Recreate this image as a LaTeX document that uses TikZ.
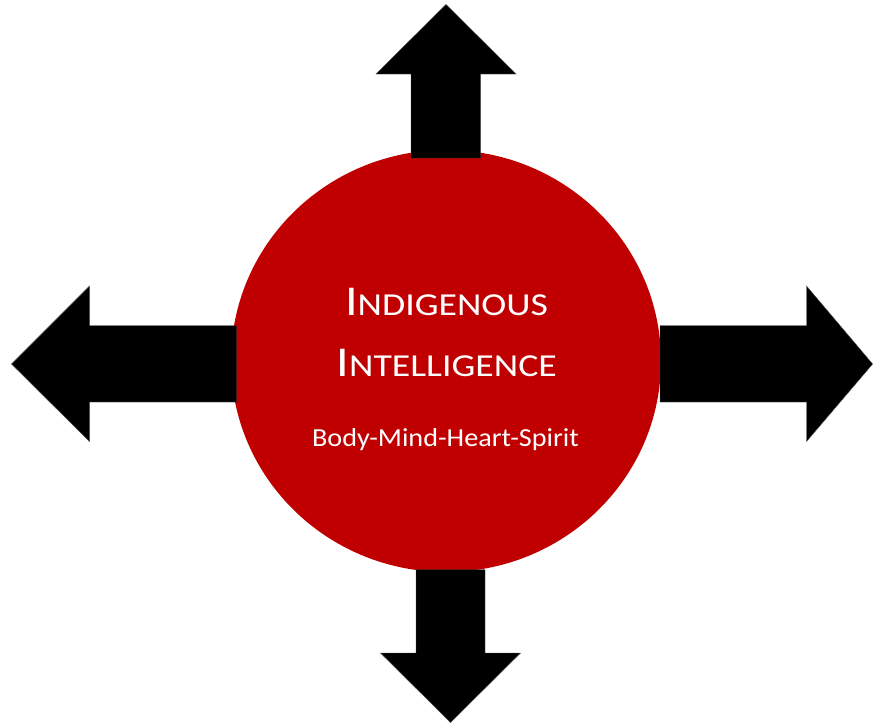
\documentclass[tikz,border=0pt]{standalone}
\usepackage{fontspec}
\setmainfont{Carlito}
\newfontfamily\titlefont[FakeStretch=1.18]{Carlito}
\newfontfamily\bodyfont[FakeStretch=1.085]{Carlito}
\definecolor{circred}{RGB}{192,0,0}
\tikzset{
  arrowshape/.style={fill=black, draw=black!70, line width=0.4pt},
  titletext/.style={text=white, anchor=base, inner sep=0pt},
}
\newcommand{\bigsc}[2]{{\titlefont\fontsize{42.5}{46}\selectfont #1}{\titlefont\fontsize{32}{34}\selectfont #2}}
\begin{document}
\begin{tikzpicture}[x=1pt,y=-1pt]
\useasboundingbox (0,0) rectangle (873,723);
% circle
\fill[circred] (446,361) ellipse [x radius=215, y radius=211];
% up arrow
\draw[arrowshape] (411,158) -- (411,74) -- (376,74) -- (446,4.5) -- (516,74) -- (480.5,74) -- (480.5,158) -- cycle;
% down arrow
\draw[arrowshape] (416,569.5) -- (416,653) -- (380.5,653) -- (450.5,722.5) -- (520.5,653) -- (485,653) -- (485,569.5) -- cycle;
% left arrow
\draw[arrowshape] (236.5,325.5) -- (89.5,325.5) -- (89.5,286) -- (11.5,364) -- (89.5,441.5) -- (89.5,402) -- (236.5,402) -- cycle;
% right arrow
\draw[arrowshape] (660,325.5) -- (806.5,325.5) -- (806.5,286) -- (872.6,364) -- (806.5,441.5) -- (806.5,402) -- (660,402) -- cycle;
% text
\node[titletext] (t1) at (446.5,315.7) {\bigsc{I}{NDIGENOUS}};
\node[titletext] (t2) at (446.7,376.5) {\bigsc{I}{NTELLIGENCE}};
\node[titletext] (t3) at (445.5,446.7) {\bodyfont\fontsize{26}{28}\selectfont Body-Mind-Heart-Spirit};
\end{tikzpicture}
\end{document}
